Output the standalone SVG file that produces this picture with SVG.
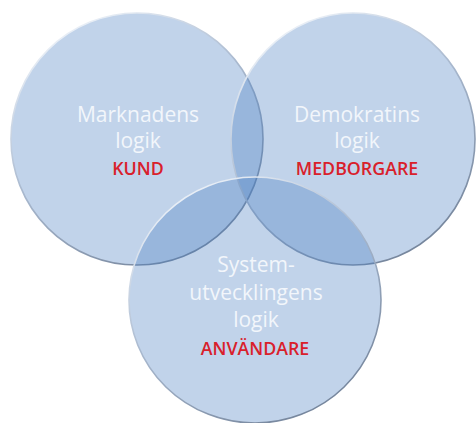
<svg xmlns="http://www.w3.org/2000/svg" width="476" height="423" viewBox="0 0 476 423">
  <defs>
    <linearGradient id="edge" x1="0.2" y1="0" x2="0.8" y2="1">
      <stop offset="0" stop-color="#f4f8fd"/>
      <stop offset="0.45" stop-color="#a9b9cf"/>
      <stop offset="1" stop-color="#6f7f96"/>
    </linearGradient>
    <style>
      .c { fill: #4a7fc0; fill-opacity: 0.34; stroke: url(#edge); stroke-width: 1.6; }
      .w { font-family: "Open Sans", "Liberation Sans", sans-serif; font-size: 21px; fill: #f2f6fb; text-anchor: middle; }
      .r { font-family: "Open Sans", "Liberation Sans", sans-serif; font-size: 17.8px; fill: #d9202b; text-anchor: middle; font-weight: 600; }
    </style>
  </defs>
  <rect width="476" height="423" fill="#ffffff"/>
  <g id="connectors"/>
  <g id="node-marknad">
    <ellipse class="c" cx="137" cy="139" rx="126" ry="126"/>
    <text class="w" x="138" y="122">Marknadens</text>
    <text class="w" x="138" y="148">logik</text>
    <text class="r" x="138" y="175">KUND</text>
  </g>
  <g id="node-demokrati">
    <ellipse class="c" cx="353" cy="139" rx="122" ry="126"/>
    <text class="w" x="357" y="122">Demokratins</text>
    <text class="w" x="357" y="148">logik</text>
    <text class="r" x="357" y="175">MEDBORGARE</text>
  </g>
  <g id="node-system">
    <ellipse class="c" cx="255" cy="300" rx="126" ry="123"/>
    <text class="w" x="256" y="272">System-</text>
    <text class="w" x="256" y="300">utvecklingens</text>
    <text class="w" x="256" y="327">logik</text>
    <text class="r" x="255" y="355">ANVÄNDARE</text>
  </g>
</svg>
